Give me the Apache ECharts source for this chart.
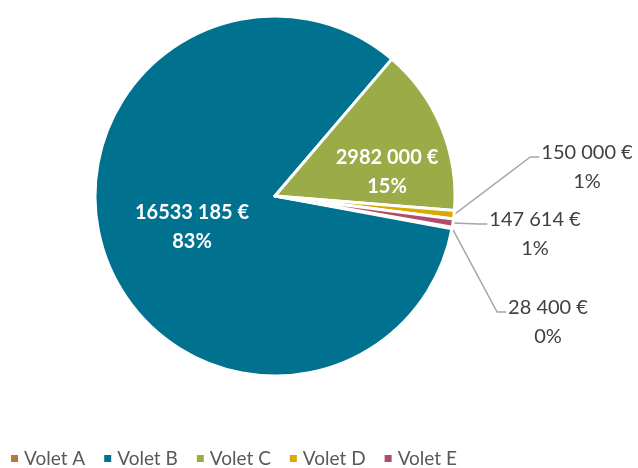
<!DOCTYPE html>
<html>
<head>
<meta charset="utf-8">
<script src="https://cdn.jsdelivr.net/npm/echarts@6/dist/echarts.min.js"></script>
<style>
  html, body { margin: 0; padding: 0; background: #fff; }
  #chart { width: 638px; height: 468px; }
</style>
</head>
<body>
<div id="chart"></div>
<script>
  // chart data
  const categories = ['Volet A', 'Volet B', 'Volet C', 'Volet D', 'Volet E'];
  const amounts = [28400, 16533185, 2982000, 150000, 147614];
  const colors = ['#b07b3c', '#007290', '#9aab48', '#dba800', '#b04c6c'];

  // where each label sits (center of text block), and if it is drawn outside
  const labelAt = [[548, 322], [192, 227], [387, 172], [587, 167], [535, 234]];
  const outside = [true, false, false, true, true];

  // Excel format "### ###" : only the last group is split
  function money(v) {
    let hi = Math.floor(v / 1000);
    let lo = String(v % 1000).padStart(3, '0');
    return (hi > 0 ? hi + ' ' + lo : String(v % 1000)) + ' €';
  }

  let chart = echarts.init(document.getElementById('chart'));

  let pieData = categories.map(function (name, i) {
    return {
      name: name,
      value: amounts[i],
      itemStyle: { color: colors[i] },
      label: outside[i]
        ? { position: 'outside', color: '#404040', fontWeight: 'normal', fontSize: 20 }
        : { position: 'inside', color: '#ffffff', fontWeight: 'bold', fontSize: 20 },
      labelLine: { show: outside[i] }
    };
  });

  chart.setOption({
    animation: false,
    legend: {
      data: categories,
      left: 4,
      top: 444,
      icon: 'rect',
      itemWidth: 9,
      itemHeight: 9,
      itemGap: 17,
      textStyle: { fontFamily: 'Lato', fontSize: 19, color: '#595959' }
    },
    series: [
      {
        type: 'pie',
        center: [275, 196],
        radius: [0, 180],
        startAngle: -10,
        clockwise: true,
        avoidLabelOverlap: false,
        data: pieData,
        itemStyle: { borderColor: '#ffffff', borderWidth: 3 },
        label: {
          fontFamily: 'Lato',
          fontSize: 20,
          lineHeight: 29,
          align: 'center',
          formatter: function (p) {
            return money(p.value) + '\n' + Math.round(p.percent) + '%';
          }
        },
        labelLine: {
          lineStyle: { color: '#a6a6a6', width: 1.5 }
        },
        labelLayout: function (params) {
          let i = params.dataIndex;
          let x = labelAt[i][0];
          let y = labelAt[i][1];
          let out = { x: x, y: y, align: 'center', verticalAlign: 'middle' };
          if (outside[i] && params.labelLinePoints) {
            let start = params.labelLinePoints[0];
            let left = x - params.labelRect.width / 2;
            let ly = y - 10;
            out.labelLinePoints = [start, [left - 11, ly], [left - 2, ly]];
          }
          return out;
        }
      }
    ]
  });
</script>
</body>
</html>
